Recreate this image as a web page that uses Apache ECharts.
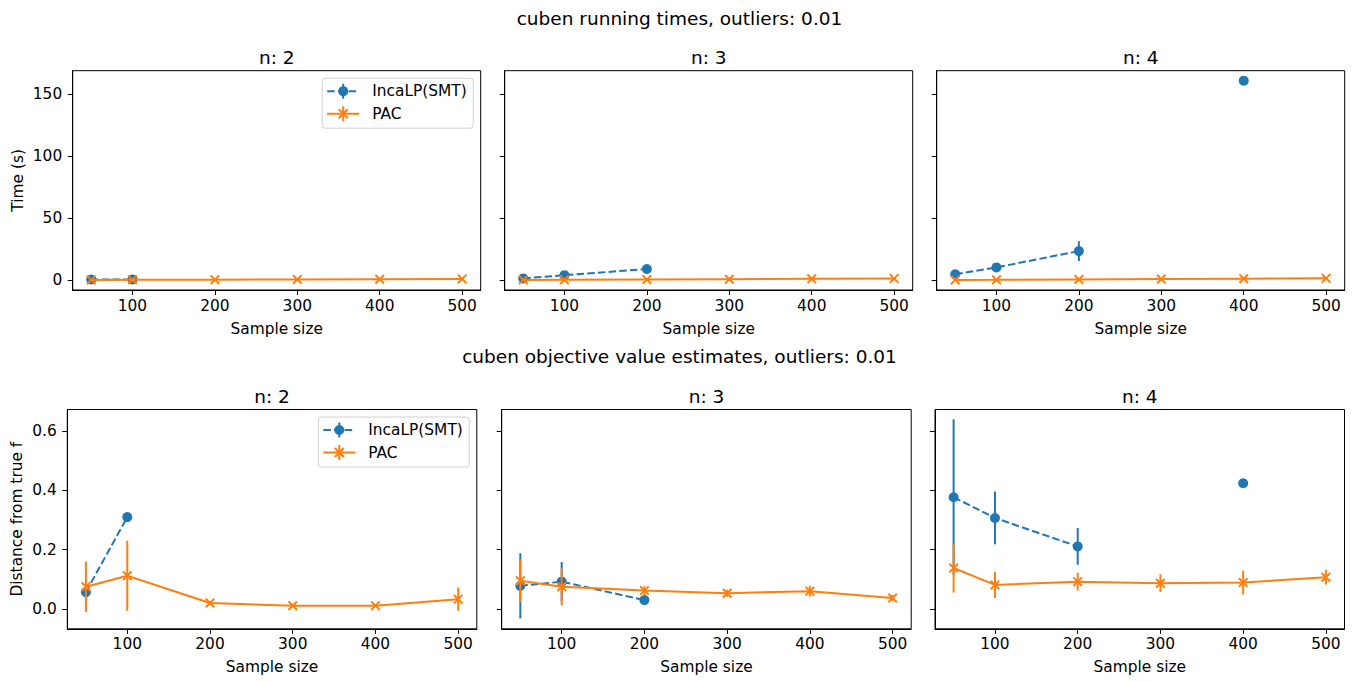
<!DOCTYPE html>
<html>
<head>
<meta charset="utf-8">
<title>cuben running times / objective value estimates</title>
<script src="https://cdn.jsdelivr.net/npm/echarts@6/dist/echarts.min.js"></script>
<style>
    html, body { margin: 0; padding: 0; background: #fff; }
    #chart { width: 1359px; height: 681px; }
</style>
</head>
<body>
<div id="chart"></div>
<script>
// ---- data ----
const sampleSizes = [50, 100, 200, 300, 400, 500]
const panelTitles = ['n: 2', 'n: 3', 'n: 4']
const seriesNames = ['IncaLP(SMT)', 'PAC']
const xTicks = [100, 200, 300, 400, 500]
const timeTicks = [0, 50, 100, 150]
const distTicks = [0.0, 0.2, 0.4, 0.6]

// running times (s), one row per panel
const timeIncaLP = [
    [0.4, 0.5, null, null, null, null],
    [1.3, 3.9, 8.9, null, null, null],
    [4.6, 10.2, 23.4, null, 161.0, null]
]
const timeIncaLPErr = [
    [0.2, 0.3, 0, 0, 0, 0],
    [0.4, 0.8, 1.5, 0, 0, 0],
    [1.0, 2.0, 8.0, 0, 0, 0]
]
const timePAC = [
    [0.1, 0.2, 0.3, 0.5, 0.7, 0.9],
    [0.1, 0.2, 0.4, 0.7, 1.0, 1.2],
    [0.1, 0.2, 0.5, 0.8, 1.1, 1.4]
]
const timePACErr = [
    [0.02, 0.03, 0.05, 0.05, 0.08, 0.1],
    [0.02, 0.03, 0.05, 0.08, 0.1, 0.1],
    [0.02, 0.04, 0.06, 0.1, 0.1, 0.15]
]

// distance from true f
const distIncaLP = [
    [0.057, 0.310, null, null, null, null],
    [0.078, 0.092, 0.030, null, null, null],
    [0.377, 0.307, 0.211, null, 0.424, null]
]
const distIncaLPErr = [
    [0, 0, 0, 0, 0, 0],
    [0.110, 0.066, 0, 0, 0, 0],
    [0.263, 0.089, 0.062, 0, 0, 0]
]
const distPAC = [
    [0.075, 0.112, 0.020, 0.011, 0.011, 0.033],
    [0.095, 0.075, 0.062, 0.053, 0.060, 0.037],
    [0.138, 0.081, 0.092, 0.087, 0.089, 0.107]
]
const distPACErr = [
    [0.085, 0.118, 0.006, 0.004, 0.004, 0.039],
    [0.072, 0.063, 0.015, 0.012, 0.018, 0.010],
    [0.083, 0.044, 0.030, 0.030, 0.040, 0.025]
]

// ---- styling ----
const BLUE = '#1f77b4'
const ORANGE = '#ff7f0e'
const FONT = 'DejaVu Sans'
const FS = 15.4      // ticks, axis names, legend
const TITLE_FS = 18.5
const X_MARK = 'path://M0,1.4 L1.4,0 L5,3.6 L8.6,0 L10,1.4 L6.4,5 L10,8.6 L8.6,10 L5,6.4 L1.4,10 L0,8.6 L3.6,5 Z'

const rows = [
    {
        title: 'cuben running times, outliers: 0.01', titleY: 18,
        yName: 'Time (s)', yNameGap: 47,
        ticks: timeTicks, ymin: -8.05, ymax: 169.05, fmt: v => String(v),
        top: 70.7, height: 219.3, lefts: [72.7, 504.7, 936.7], width: 408,
        inca: timeIncaLP, incaErr: timeIncaLPErr, pac: timePAC, pacErr: timePACErr
    },
    {
        title: 'cuben objective value estimates, outliers: 0.01', titleY: 356,
        yName: 'Distance from true f', yNameGap: 42.5,
        ticks: distTicks, ymin: -0.067, ymax: 0.673, fmt: v => v.toFixed(1),
        top: 409.5, height: 219.3, lefts: [67.3, 501.7, 935], width: 409.5,
        inca: distIncaLP, incaErr: distIncaLPErr, pac: distPAC, pacErr: distPACErr
    }
]

const pairs = vals => sampleSizes.map((x, i) => [x, vals[i] == null ? '-' : vals[i]])
const bars = (vals, errs) => sampleSizes
    .map((x, i) => [x, vals[i], errs[i]])
    .filter(d => d[1] != null && d[2] > 0)
    .map(d => [d[0], d[1] - d[2], d[1] + d[2]])

const errRenderer = color => (params, api) => {
    const p1 = api.coord([api.value(0), api.value(1)])
    const p2 = api.coord([api.value(0), api.value(2)])
    return {
        type: 'line',
        shape: { x1: p1[0], y1: p1[1], x2: p2[0], y2: p2[1] },
        style: { stroke: color, lineWidth: 2 }
    }
}

const grids = [], xAxes = [], yAxes = [], series = [], graphics = []
const axisText = { color: '#000', fontSize: FS, fontFamily: FONT }

rows.forEach((row, r) => {
    graphics.push({
        type: 'text', x: 679.5, y: row.titleY,
        style: { text: row.title, fontSize: TITLE_FS, fontFamily: FONT, fill: '#000', align: 'center', verticalAlign: 'middle' }
    })
    for (let c = 0; c < 3; c++) {
        const idx = grids.length
        grids.push({
            left: row.lefts[c], top: row.top, width: row.width, height: row.height,
            show: true, borderColor: '#000', borderWidth: 1, backgroundColor: '#fff'
        })
        graphics.push({
            type: 'text', x: row.lefts[c] + row.width / 2, y: row.top - 13,
            style: { text: panelTitles[c], fontSize: TITLE_FS, fontFamily: FONT, fill: '#000', align: 'center', verticalAlign: 'middle' }
        })
        xAxes.push({
            type: 'value', gridIndex: idx, min: 27.5, max: 522.5,
            name: 'Sample size', nameLocation: 'middle', nameGap: 31,
            nameTextStyle: axisText,
            axisLine: { show: true, onZero: false, lineStyle: { color: '#000', width: 1 } },
            axisTick: { show: true, length: 5, lineStyle: { color: '#000' }, customValues: xTicks },
            axisLabel: { ...axisText, margin: 8, customValues: xTicks },
            splitLine: { show: false }
        })
        yAxes.push({
            type: 'value', gridIndex: idx, min: row.ymin, max: row.ymax,
            name: c === 0 ? row.yName : '', nameLocation: 'middle', nameGap: row.yNameGap,
            nameTextStyle: axisText,
            axisLine: { show: true, onZero: false, lineStyle: { color: '#000', width: 1 } },
            axisTick: { show: true, length: 5, lineStyle: { color: '#000' }, customValues: row.ticks },
            axisLabel: { ...axisText, show: c === 0, margin: 10.5, customValues: row.ticks, formatter: row.fmt },
            splitLine: { show: false }
        })
        const common = { xAxisIndex: idx, yAxisIndex: idx, silent: true, animation: false }
        series.push({
            ...common, type: 'custom', name: seriesNames[0], data: bars(row.inca[c], row.incaErr[c]),
            encode: { x: 0, y: [1, 2] }, renderItem: errRenderer(BLUE), z: 2
        })
        series.push({
            ...common, type: 'line', name: seriesNames[0], data: pairs(row.inca[c]),
            connectNulls: false, showAllSymbol: true,
            symbol: 'circle', symbolSize: 10,
            lineStyle: { color: BLUE, width: 2, type: [7.5, 3.2] },
            itemStyle: { color: BLUE, borderWidth: 0 }, z: 3
        })
        series.push({
            ...common, type: 'custom', name: seriesNames[1], data: bars(row.pac[c], row.pacErr[c]),
            encode: { x: 0, y: [1, 2] }, renderItem: errRenderer(ORANGE), z: 4
        })
        series.push({
            ...common, type: 'line', name: seriesNames[1], data: pairs(row.pac[c]),
            connectNulls: false, showAllSymbol: true,
            symbol: X_MARK, symbolSize: 10, symbolKeepAspect: true,
            lineStyle: { color: ORANGE, width: 2 },
            itemStyle: { color: ORANGE, borderWidth: 0 }, z: 5
        })
    }

    // legend in the first panel of each row (upper right)
    const right = row.lefts[0] + row.width - 7.5
    const bx = right - 151, by = row.top + 7.5
    const hx0 = bx + 5, hx1 = bx + 37, hm = (hx0 + hx1) / 2
    const y1 = by + 13, y2 = by + 35.5
    graphics.push(
        { type: 'rect', shape: { x: bx, y: by, width: 151, height: 50, r: 3 }, style: { fill: 'rgba(255,255,255,0.8)', stroke: '#d0d0d0', lineWidth: 1 }, z: 100 },
        { type: 'line', shape: { x1: hx0, y1: y1, x2: hx1, y2: y1 }, style: { stroke: BLUE, lineWidth: 2, lineDash: [7.5, 3.2] }, z: 101 },
        { type: 'line', shape: { x1: hm, y1: y1 - 7.5, x2: hm, y2: y1 + 7.5 }, style: { stroke: BLUE, lineWidth: 2 }, z: 101 },
        { type: 'circle', shape: { cx: hm, cy: y1, r: 5 }, style: { fill: BLUE }, z: 102 },
        { type: 'text', x: bx + 50, y: y1, style: { text: seriesNames[0], fontSize: FS, fontFamily: FONT, fill: '#000', verticalAlign: 'middle' }, z: 102 },
        { type: 'line', shape: { x1: hx0, y1: y2, x2: hx1, y2: y2 }, style: { stroke: ORANGE, lineWidth: 2 }, z: 101 },
        { type: 'line', shape: { x1: hm, y1: y2 - 7.5, x2: hm, y2: y2 + 7.5 }, style: { stroke: ORANGE, lineWidth: 2 }, z: 101 },
        { type: 'line', shape: { x1: hm - 4.5, y1: y2 - 4.5, x2: hm + 4.5, y2: y2 + 4.5 }, style: { stroke: ORANGE, lineWidth: 2 }, z: 102 },
        { type: 'line', shape: { x1: hm - 4.5, y1: y2 + 4.5, x2: hm + 4.5, y2: y2 - 4.5 }, style: { stroke: ORANGE, lineWidth: 2 }, z: 102 },
        { type: 'text', x: bx + 50, y: y2, style: { text: seriesNames[1], fontSize: FS, fontFamily: FONT, fill: '#000', verticalAlign: 'middle' }, z: 102 }
    )
})

const chart = echarts.init(document.getElementById('chart'), null, { renderer: 'svg' })
chart.setOption({
    backgroundColor: '#fff',
    animation: false,
    grid: grids,
    xAxis: xAxes,
    yAxis: yAxes,
    series: series,
    graphic: graphics
})
window.addEventListener('resize', () => chart.resize())
</script>
</body>
</html>
